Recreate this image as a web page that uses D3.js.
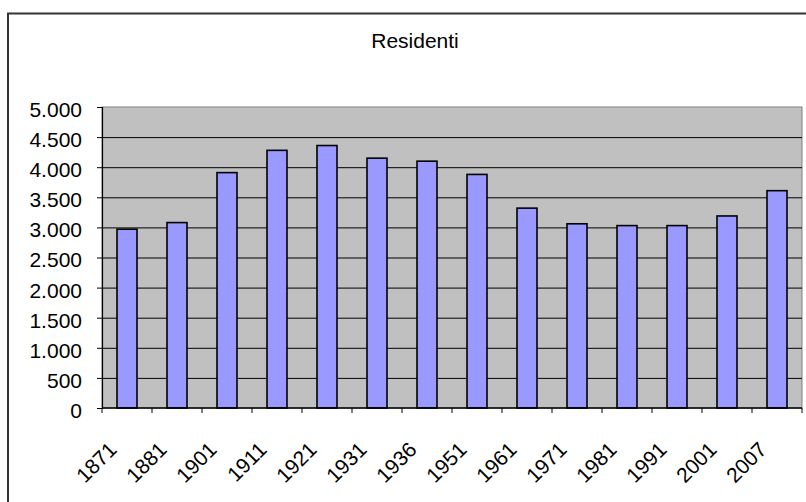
<!DOCTYPE html>
<html>
<head>
<meta charset="utf-8">
<script src="https://cdn.jsdelivr.net/npm/d3@7"></script>
<style>
  html, body { margin: 0; padding: 0; background: #fff; }
  svg { display: block; }
  text { font-family: "Liberation Sans", Arial, sans-serif; fill: #000; }
</style>
</head>
<body>
<svg id="chart" width="806" height="502"></svg>
<script>
const title = "Residenti";
const years = ["1871","1881","1901","1911","1921","1931","1936","1951","1961","1971","1981","1991","2001","2007"];
const residents = [2970, 3080, 3910, 4280, 4360, 4150, 4100, 3880, 3320, 3060, 3030, 3030, 3190, 3610];
const yTicks = [0, 500, 1000, 1500, 2000, 2500, 3000, 3500, 4000, 4500, 5000];

const svg = d3.select("#chart");
const plot = { left: 102, right: 802, top: 107, bottom: 408 };

const itFormat = d3.formatLocale({ decimal: ",", thousands: ".", grouping: [3], currency: ["€", ""] }).format(",");

// outer chart border (cut off at right/bottom)
svg.append("rect")
  .attr("x", 8).attr("y", 13.5)
  .attr("width", 830).attr("height", 520)
  .attr("fill", "#fff").attr("stroke", "#333").attr("stroke-width", 2);

// title
svg.append("text")
  .attr("x", 415).attr("y", 48)
  .attr("text-anchor", "middle")
  .style("font-size", "21px")
  .text(title);

const x = d3.scaleBand().domain(years).range([plot.left, plot.right])
  .paddingInner(0.6).paddingOuter(0.3);
const xCat = d3.scaleBand().domain(years).range([plot.left, plot.right]).padding(0);
const y = d3.scaleLinear().domain([0, 5000]).range([plot.bottom, plot.top]);

// plot background
svg.append("rect")
  .attr("x", plot.left).attr("y", plot.top)
  .attr("width", plot.right - plot.left).attr("height", plot.bottom - plot.top)
  .attr("fill", "#C0C0C0").attr("stroke", "#808080").attr("stroke-width", 1);

// gridlines
svg.append("g")
  .attr("transform", `translate(${plot.left},0)`)
  .call(d3.axisLeft(y).tickValues(yTicks.filter(v => v > 0 && v < 5000)).tickSize(-(plot.right - plot.left)).tickFormat(""))
  .call(g => g.select(".domain").remove())
  .call(g => g.selectAll("line").attr("stroke", "#000").attr("stroke-width", 1));

// bars
svg.append("g").selectAll("rect")
  .data(years.map((d, i) => ({ year: d, value: residents[i] })))
  .join("rect")
  .attr("x", d => x(d.year))
  .attr("y", d => y(d.value))
  .attr("width", x.bandwidth())
  .attr("height", d => y(0) - y(d.value))
  .attr("fill", "#9999FF")
  .attr("stroke", "#000")
  .attr("stroke-width", 1.6);

// y axis
svg.append("g")
  .attr("transform", `translate(${plot.left},0)`)
  .call(d3.axisLeft(y).tickValues(yTicks).tickSize(5).tickPadding(15).tickFormat(itFormat))
  .call(g => g.select(".domain").attr("stroke", "#000").attr("stroke-width", 1.2))
  .call(g => g.selectAll(".tick line").attr("stroke", "#000"))
  .call(g => g.selectAll(".tick text")
    .attr("dy", "0.45em")
    .style("font-size", "21px")
    .style("font-family", "'Liberation Sans', Arial, sans-serif")
    .attr("fill", "#000"));

// x axis line
svg.append("line")
  .attr("x1", plot.left).attr("x2", plot.right)
  .attr("y1", y(0)).attr("y2", y(0))
  .attr("stroke", "#000").attr("stroke-width", 1.5);

// x ticks at category boundaries
const boundaries = years.map(d => xCat(d)).concat([xCat.range()[1]]);
svg.append("g").selectAll("line")
  .data(boundaries)
  .join("line")
  .attr("x1", d => d).attr("x2", d => d)
  .attr("y1", y(0)).attr("y2", y(0) + 5)
  .attr("stroke", "#000");

// x labels rotated
svg.append("g").selectAll("text")
  .data(years)
  .join("text")
  .attr("transform", d => `translate(${xCat(d) + xCat.bandwidth() / 2 - 9},${y(0) + 43}) rotate(-45)`)
  .attr("text-anchor", "end")
  .style("font-size", "21px")
  .text(d => d);
</script>
</body>
</html>
